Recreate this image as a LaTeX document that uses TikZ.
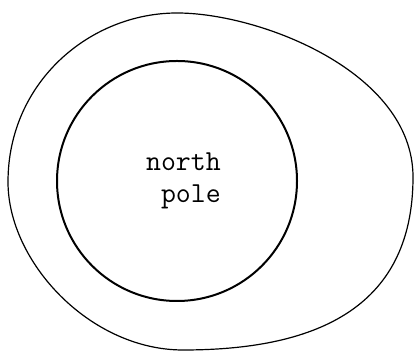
\documentclass[tikz,border=0pt]{standalone}
\usepackage{tikz}

\begin{document}
\begin{tikzpicture}[x=1pt, y=1pt]
                    % 固定画布大小
                    \useasboundingbox (0,0) rectangle (415,352);

                    % 外圈闭合曲线
                    \draw[line width=1.2pt] (177,339) .. controls (260,339) and (413,280) .. (413,175)
                        .. controls (413,40) and (310,2) .. (183,2)
                        .. controls (90,2) and (8,90) .. (8,170)
                        .. controls (8,270) and (90,339) .. cycle;

                    % 内圈
                    \node[circle, draw, line width=2pt, minimum size=240pt, inner sep=0pt] (pole) at (177,171) {};

                    % 标注
                    \node[anchor=east, align=right, inner sep=0pt, font=\ttfamily\fontsize{29}{32}\selectfont] (label) at (221,171.5) {north\\pole};
                \end{tikzpicture}
\end{document}
